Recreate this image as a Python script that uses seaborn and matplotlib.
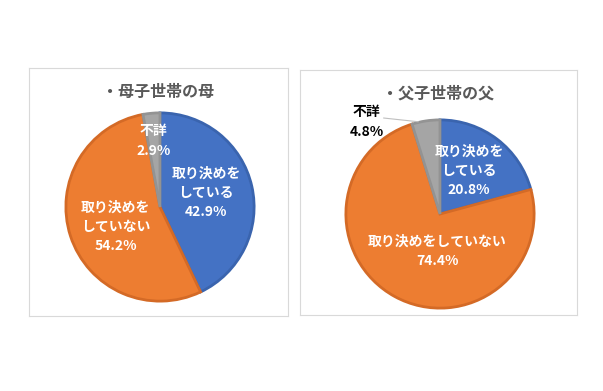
import numpy as np
import matplotlib
matplotlib.use("Agg")
import matplotlib.pyplot as plt
import seaborn as sns

# data
categories = ["取り決めを\nしている", "取り決めを\nしていない", "不詳"]
mother_vals = [42.9, 54.2, 2.9]
father_vals = [20.8, 74.4, 4.8]
titles = ["・母子世帯の母", "・父子世帯の父"]

sns.set_style("white")
plt.rcParams['font.family'] = ['Noto Sans CJK JP', 'DejaVu Sans']

colors = ["#4472C4", "#ED7D31", "#A5A5A5"]
edges = ["#3A64AE", "#D46A26", "#939393"]

fig = plt.figure(figsize=(6.03, 3.91), dpi=100)
W, H = 603, 391


def px_axes(x0, y0, x1, y1):
    return fig.add_axes([x0 / W, 1 - y1 / H, (x1 - x0) / W, (y1 - y0) / H])


def draw_panel(box, center, r, vals, title, label_pos, label_txt, label_col):
    frame = px_axes(*box)
    frame.set_xticks([])
    frame.set_yticks([])
    for s in frame.spines.values():
        s.set_color("#d9d9d9")
        s.set_linewidth(0.8)
    frame.patch.set_alpha(0)
    frame.text(0.5, 0.905, title, transform=frame.transAxes, ha="center",
               va="center", fontsize=11.5, fontweight="bold", color="#595959")

    cx, cy = center
    ax = px_axes(cx - r, cy - r, cx + r, cy + r)
    wedges, _ = ax.pie(vals, colors=colors, startangle=90, counterclock=False,
                       radius=1.0, wedgeprops=dict(linewidth=2.0))
    for w, ec in zip(wedges, edges):
        w.set_edgecolor(ec)
    ax.set_xlim(-1.02, 1.02)
    ax.set_ylim(-1.02, 1.02)
    ax.set_aspect("equal")
    ax.axis("off")
    for (x, y), txt, c in zip(label_pos, label_txt, label_col):
        ax.text(x, y, txt, ha="center", va="center", fontsize=10,
                fontweight="bold", color=c, linespacing=1.5)
    return ax


m_txt = [f"{categories[0]}\n{mother_vals[0]}%",
         f"{categories[1]}\n{mother_vals[1]}%",
         f"{categories[2]}\n{mother_vals[2]}%"]
draw_panel((29, 68, 288, 316), (160, 207), 96, mother_vals, titles[0],
           [(0.49, 0.15), (-0.47, -0.21), (-0.07, 0.70)], m_txt,
           ["white", "white", "white"])

f_txt = [f"{categories[0]}\n{father_vals[0]}%",
         f"{categories[1].replace(chr(10), '')}\n{father_vals[1]}%",
         f"{categories[2]}\n{father_vals[2]}%"]
ax2 = draw_panel((300, 70, 577, 315), (440, 214), 96, father_vals, titles[1],
                 [(0.31, 0.46), (-0.03, -0.40), (-0.78, 0.98)], f_txt,
                 ["white", "white", "black"])
ax2.plot([-0.6, -0.23], [1.02, 0.98], color="#bfbfbf", lw=0.8, clip_on=False)
ax2.set_xlim(-1.02, 1.02)
ax2.set_ylim(-1.02, 1.02)

fig.savefig("out.png", dpi=100)
